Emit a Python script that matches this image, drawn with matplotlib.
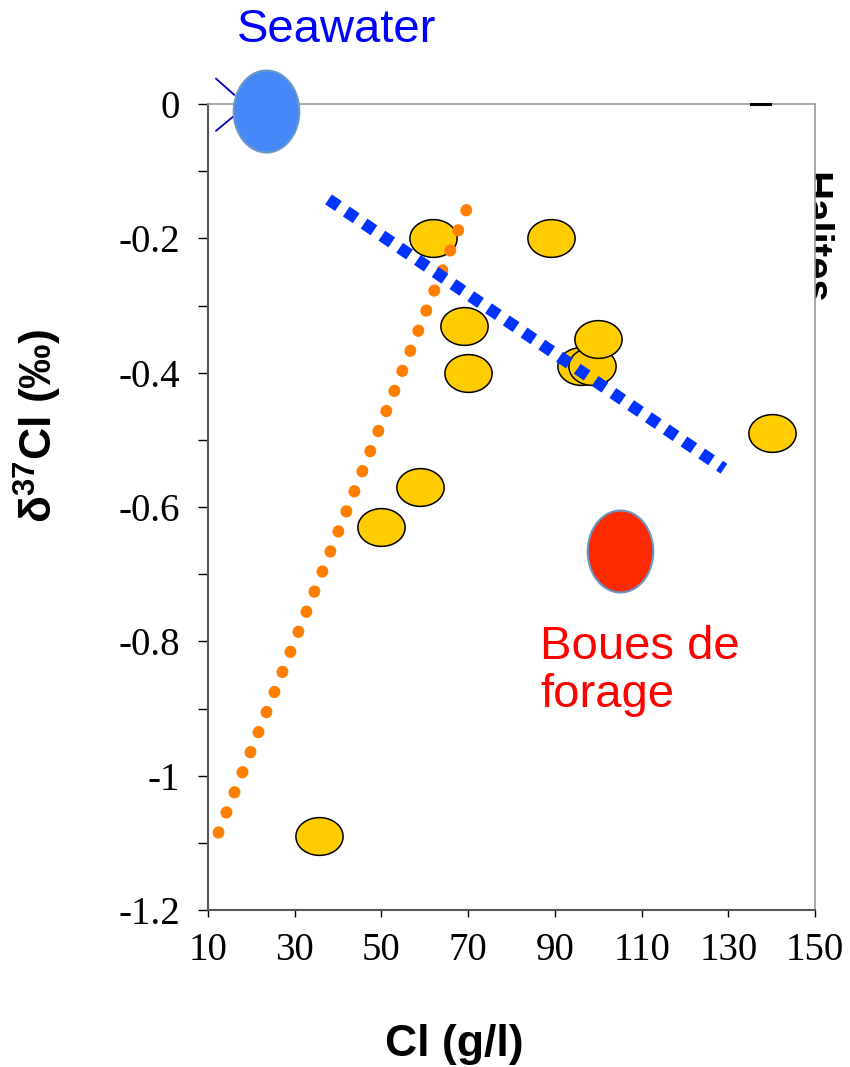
import numpy as np
import matplotlib
matplotlib.use('Agg')
import matplotlib.pyplot as plt
from matplotlib.path import Path
from matplotlib.transforms import ScaledTranslation

plt.rcParams['font.family'] = ['Liberation Sans', 'DejaVu Sans']
plt.rcParams['mathtext.fontset'] = 'custom'
plt.rcParams['mathtext.rm'] = 'Liberation Sans'
plt.rcParams['mathtext.bf'] = 'Liberation Sans:bold'

# samples (Cl g/l, d37Cl permil)
cl = [62, 89, 69, 70, 96, 98.5, 100, 140, 59, 50, 35.5]
d37 = [-0.20, -0.20, -0.33, -0.40, -0.39, -0.39, -0.35, -0.49, -0.57, -0.63, -1.09]

# end-members
seawater = (23.4, -0.01)
boues = (105, -0.665)

# trend lines
orange_x = [12.4, 71.0]
orange_y = [-1.085, -0.135]
blue_x = [37.8, 129.0]
blue_y = [-0.142, -0.543]

xticks = [10, 30, 50, 70, 90, 110, 130, 150]
yticks = [0, -0.2, -0.4, -0.6, -0.8, -1, -1.2]
ytick_labels = ['0', '-0.2', '-0.4', '-0.6', '-0.8', '-1', '-1.2']


def ellipse_marker(wx, wy):
    t = np.linspace(0, 2 * np.pi, 80)
    return Path(np.column_stack([wx * np.cos(t), wy * np.sin(t)]), closed=True)


flat = ellipse_marker(1.0, 0.8)
tall = ellipse_marker(0.8, 1.0)

fig = plt.figure(figsize=(8.5, 10.67), dpi=100)
ax = fig.add_axes([208/850, 1 - 910/1067, 607/850, 806/1067])

ax.plot(cl, d37, linestyle='none', marker=flat, markersize=34,
        markerfacecolor='#FFCC00', markeredgecolor='black', markeredgewidth=1.1, zorder=3)

ax.plot(orange_x, orange_y, color='#FF7F00', lw=8.5, linestyle=(0, (0.05, 1.78)),
        dash_capstyle='round', zorder=4)
ax.plot(blue_x, blue_y, color='#0033FF', lw=8.6, linestyle=(0, (1.0, 0.8)),
        dash_capstyle='butt', zorder=4)

ax.plot(*seawater, marker=tall, markersize=59, markerfacecolor='#4688F8',
        markeredgecolor='#6A96C8', markeredgewidth=1.5, clip_on=False, zorder=5)
ax.plot(*boues, marker=tall, markersize=59, markerfacecolor='#FF2A00',
        markeredgecolor='#6A96C8', markeredgewidth=1.5, clip_on=False, zorder=5)

# little strokes beside the seawater ellipse (inches from its centre)
sw_trans = fig.dpi_scale_trans + ScaledTranslation(seawater[0], seawater[1], ax.transData)
ax.plot([-0.50, -0.32], [0.32, 0.16], color='#0000CC', lw=1.3, transform=sw_trans, clip_on=False)
ax.plot([-0.50, -0.33], [-0.20, -0.06], color='#0000CC', lw=1.3, transform=sw_trans, clip_on=False)

ax.plot([135.2, 139.6], [0, 0], color='black', lw=2.2, clip_on=False, zorder=6)

ax.text(16.7, 0.092, 'Seawater', color='#0000FF', fontsize=34, va='baseline')
ax.text(86.6, -0.898, 'Boues de\nforage', color='#FF0000', fontsize=34,
        va='baseline', linespacing=1.12)

fig.text(801/850, 1 - 172/1067, 'Halites', rotation=-90, rotation_mode='anchor',
         ha='left', va='baseline', fontsize=29, fontweight='bold', zorder=-1)

ax.set_xlim(10, 150)
ax.set_ylim(-1.2, 0)
ax.set_xticks(xticks)
ax.set_xticklabels([str(v) for v in xticks])
ax.set_yticks(yticks)
ax.set_yticklabels(ytick_labels)
ax.set_yticks(np.arange(-1.1, 0, 0.2), minor=True)

for lab in ax.get_xticklabels() + ax.get_yticklabels():
    lab.set_fontfamily('Liberation Serif')
    lab.set_fontsize(28)

ax.tick_params(axis='y', which='both', direction='out', length=7, width=1, pad=13)
ax.tick_params(axis='x', which='both', direction='out', length=5, width=1, pad=11)

ax.spines['left'].set_color('#555555')
ax.spines['left'].set_linewidth(1.5)
ax.spines['bottom'].set_color('#555555')
ax.spines['bottom'].set_linewidth(1.5)
ax.spines['top'].set_color('#999999')
ax.spines['top'].set_linewidth(1.2)
ax.spines['right'].set_color('#999999')
ax.spines['right'].set_linewidth(1.2)

ax.set_xlabel('Cl (g/l)', fontsize=32, fontweight='bold', va='center')
ax.xaxis.set_label_coords(0.405, -0.167)
ax.set_ylabel(r'δ$^{\mathbf{37}}$Cl (‰)', fontsize=32, fontweight='bold', va='center')
ax.yaxis.set_label_coords(-0.28, 0.60)

fig.savefig('out.png', dpi=100)
